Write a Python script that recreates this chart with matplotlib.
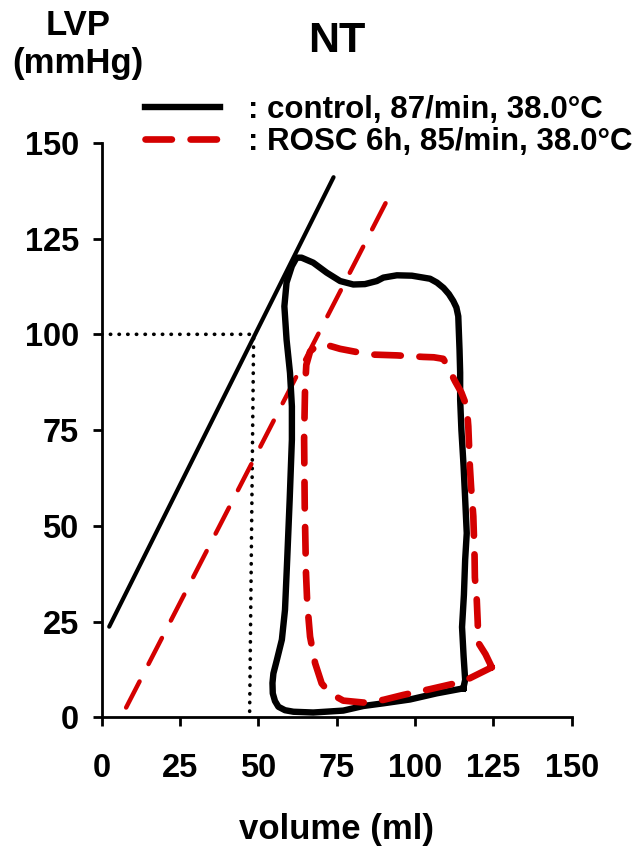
import matplotlib
matplotlib.use('Agg')
import matplotlib.pyplot as plt

# PV loop, control (volume ml, pressure mmHg)
ctrl_v = [115.4, 116.0, 115.5, 115.0, 115.6, 116.0, 116.5, 116.0, 115.5, 114.8, 114.4, 114.4,
          114.2, 113.8, 113.2, 112.2, 110.8, 109.1, 107.0, 104.8, 99.0, 94.2, 89.9, 87.8, 84.0,
          80.3, 76.1, 71.8, 67.5, 63.8, 62.2, 60.7, 59.0, 58.3, 59.0, 60.1, 60.7, 60.7, 60.0,
          59.2, 58.5, 57.5, 55.9, 54.8, 54.5, 54.6, 55.3, 56.4, 58.5, 61.2, 67.5, 77.1, 83.5,
          89.9, 98.4, 106.9, 115.4]
ctrl_p = [7.6, 9.8, 16.0, 23.6, 32.0, 41.2, 48.1, 57.0, 65.5, 75.0, 83.0, 90.0,
          96.0, 104.7, 107.0, 108.7, 110.5, 112.1, 113.5, 114.5, 115.3, 115.4, 114.8, 113.9, 113.1,
          113.0, 113.9, 116.1, 118.7, 120.0, 120.0, 117.8, 113.5, 107.3, 98.6, 89.9, 81.2, 72.5, 57.0,
          41.2, 28.1, 20.3, 15.0, 11.5, 9.0, 6.3, 4.3, 2.8, 1.9, 1.5, 1.3, 1.8, 3.0,
          3.7, 4.7, 6.3, 7.6]

# PV loop, ROSC 6h
rosc_v = [124.5, 122.5, 120.2, 120.0, 119.7, 119.1, 119.0, 118.6, 117.9, 117.5, 117.0, 116.5,
          114.8, 112.8, 110.1, 109.0, 106.0, 102.6, 94.2, 86.8, 82.5, 76.1, 72.3, 69.0, 66.5,
          65.3, 64.9, 64.6, 64.8, 65.2, 65.6, 66.5, 68.1, 70.2, 72.9, 77.1, 83.5, 89.9, 96.3,
          104.8, 115.4, 124.5]
rosc_p = [13.1, 16.5, 19.5, 25.0, 30.7, 36.5, 42.0, 52.5, 60.0, 65.5, 76.0, 81.2,
          84.8, 87.7, 92.1, 93.6, 94.0, 94.1, 94.5, 94.7, 95.2, 96.2, 97.1, 97.3, 95.5,
          92.0, 86.0, 72.5, 55.0, 37.7, 29.8, 21.1, 14.2, 8.9, 6.3, 4.4, 3.9, 4.6, 5.9,
          7.4, 9.4, 13.1]

# ESPVR lines
espvr_ctrl_v = [2.4, 74.0]
espvr_ctrl_p = [23.7, 141.0]
espvr_rosc_v = [7.8, 92.6]
espvr_rosc_p = [2.6, 137.4]

# dotted guide at 100 mmHg
guide_v = [0, 48.5, 47.2]
guide_p = [100, 100, 0]

ticks = [0, 25, 50, 75, 100, 125, 150]
red = '#d40000'

plt.rcParams['font.family'] = ['Liberation Sans', 'DejaVu Sans']
plt.rcParams['font.weight'] = 'bold'

fig = plt.figure(figsize=(6.36, 8.48), dpi=100)
ax = fig.add_axes([0.1599, 0.1539, 0.7390, 0.6778])

ax.plot(guide_v, guide_p, color='black', lw=2.6, linestyle=(0, (0.1, 2.3)),
        dash_capstyle='round')
ax.plot(espvr_ctrl_v, espvr_ctrl_p, color='black', lw=3, solid_capstyle='round')
ax.plot(espvr_rosc_v, espvr_rosc_p, color=red, lw=3.2, linestyle=(0, (6.6, 4.4)),
        dash_capstyle='round')
ax.plot(ctrl_v, ctrl_p, color='black', lw=4.6, solid_joinstyle='round',
        label=': control, 87/min, 38.0\u00b0C')
ax.plot(rosc_v, rosc_p, color=red, lw=4.8, linestyle=(0, (3.96, 2.8)),
        dash_capstyle='round', label=': ROSC 6h, 85/min, 38.0\u00b0C')

ax.set_xlim(0, 150)
ax.set_ylim(0, 150)
ax.set_xticks(ticks)
ax.set_yticks(ticks)
ax.spines['top'].set_visible(False)
ax.spines['right'].set_visible(False)
for s in ['left', 'bottom']:
    ax.spines[s].set_linewidth(2)
ax.tick_params(axis='both', direction='out', length=6.5, width=2, labelsize=23.5)
ax.tick_params(axis='x', pad=19)
ax.tick_params(axis='y', pad=10)

ax.set_xlabel('volume (ml)', fontsize=25, fontweight='bold', va='baseline')
ax.xaxis.set_label_coords(0.5, -0.211)

ax.text(-0.05, (717.5 - 35) / 574.8, 'LVP', transform=ax.transAxes,
        ha='center', va='baseline', fontsize=25, fontweight='bold')
ax.text(-0.05, (717.5 - 73) / 574.8, '(mmHg)', transform=ax.transAxes,
        ha='center', va='baseline', fontsize=25, fontweight='bold')
ax.text(0.5, (717.5 - 52) / 574.8, 'NT', transform=ax.transAxes,
        ha='center', va='baseline', fontsize=31, fontweight='bold')

ax.legend(loc='upper left', bbox_to_anchor=(145 / 636, 1 - 95 / 848),
          bbox_transform=fig.transFigure, frameon=False, fontsize=22.5,
          handlelength=2.4, handletextpad=0.9, labelspacing=0.05,
          borderpad=0, borderaxespad=0)

fig.savefig('out.png', dpi=100)
